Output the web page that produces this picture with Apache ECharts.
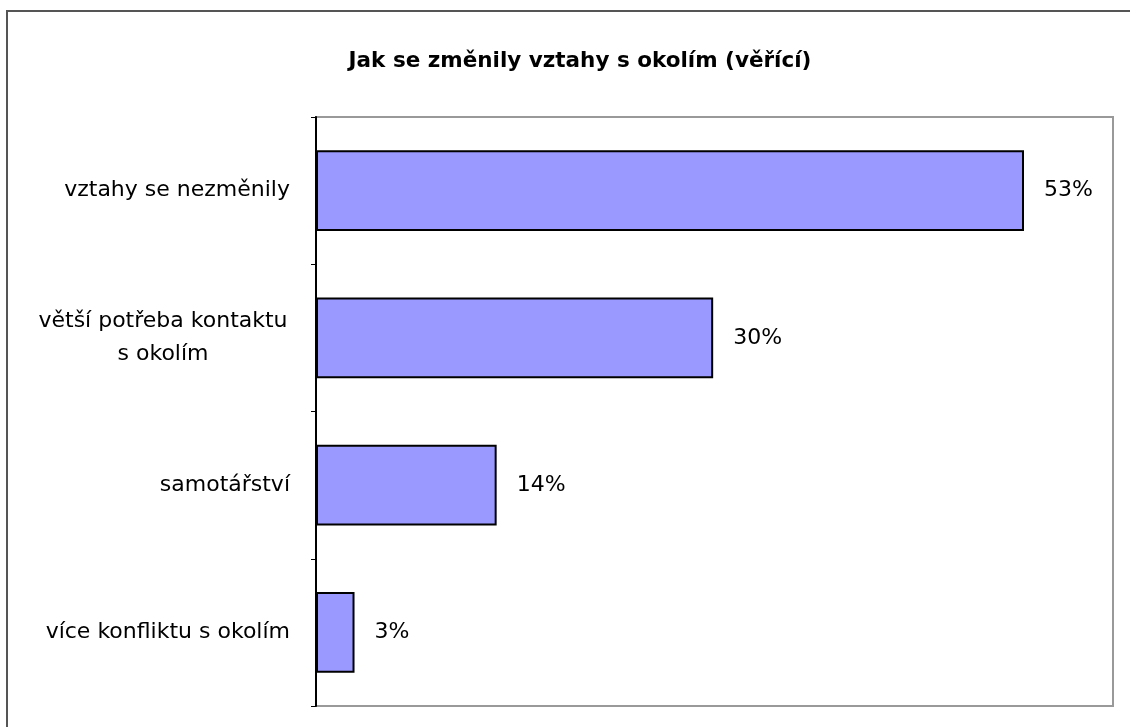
<!DOCTYPE html>
<html>
<head>
<meta charset="utf-8">
<script src="https://cdn.jsdelivr.net/npm/echarts@6/dist/echarts.min.js"></script>
<style>
  html, body { margin: 0; padding: 0; background: #fff; }
  #chart { width: 1130px; height: 727px; }
</style>
</head>
<body>
<div id="chart"></div>
<script>
// data
var categories = ['vztahy se nezměnily', 'větší potřeba kontaktu\ns okolím', 'samotářství', 'více konfliktu s okolím'];
var values = [53.3, 29.9, 13.6, 2.9];
var titleText = 'Jak se změnily vztahy s okolím (věřící)';

var chart = echarts.init(document.getElementById('chart'));

var option = {
  backgroundColor: '#fff',
  animation: false,
  textStyle: { fontFamily: 'DejaVu Sans' },
  title: {
    text: titleText,
    left: 575,
    top: 45,
    textAlign: 'center',
    textStyle: { fontFamily: 'DejaVu Sans', fontWeight: 'bold', fontSize: 21.5, color: '#000' }
  },
  graphic: [{
    // outer chart frame
    type: 'rect',
    shape: { x: 7, y: 11, width: 1200, height: 800 },
    style: { fill: 'none', stroke: '#555', lineWidth: 2 },
    silent: true
  }],
  grid: {
    left: 316,
    top: 117,
    right: 17,
    bottom: 21,
    show: true,
    borderColor: '#999',
    borderWidth: 2,
    backgroundColor: 'transparent'
  },
  xAxis: {
    type: 'value',
    min: 0,
    max: 60,
    axisLine: { show: false },
    axisTick: { show: false },
    axisLabel: { show: false },
    splitLine: { show: false }
  },
  yAxis: {
    type: 'category',
    inverse: true,
    data: categories,
    axisLine: { show: true, lineStyle: { color: '#000', width: 2 } },
    axisTick: { show: true, length: 5, lineStyle: { color: '#000', width: 1 } },
    axisLabel: {
      margin: 26,
      color: '#000',
      fontSize: 22,
      lineHeight: 33,
      formatter: function (value) {
        if (value.indexOf('\n') >= 0) {
          return value.split('\n').map(function (l) { return '{c|' + l + '}'; }).join('\n');
        }
        return value;
      },
      rich: {
        c: { width: 254, align: 'center', fontSize: 22, color: '#000', lineHeight: 33 }
      }
    }
  },
  series: [{
    type: 'bar',
    data: values,
    barWidth: '55%',
    itemStyle: {
      color: '#9999ff',
      borderColor: '#000',
      borderWidth: 2
    },
    label: {
      show: true,
      position: 'right',
      distance: 20,
      color: '#000',
      fontSize: 22,
      formatter: function (p) {
        return Math.round(p.value) + '%';
      }
    }
  }]
};

chart.setOption(option);
</script>
</body>
</html>
